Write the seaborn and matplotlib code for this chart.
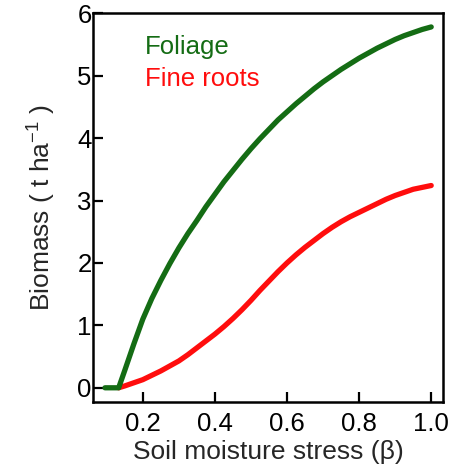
import numpy as np
import pandas as pd
import matplotlib
matplotlib.use("Agg")
import matplotlib.pyplot as plt
import seaborn as sns

# Data
foliage_x = [0.095, 0.133, 0.15, 0.175, 0.2, 0.225, 0.25, 0.275, 0.3, 0.325, 0.35,
             0.375, 0.4, 0.425, 0.45, 0.475, 0.5, 0.525, 0.55, 0.575, 0.6, 0.625,
             0.65, 0.675, 0.7, 0.725, 0.75, 0.775, 0.8, 0.825, 0.85, 0.875, 0.9,
             0.925, 0.95, 0.975, 1.0]
foliage_y = [0.0, 0.0, 0.28, 0.70, 1.10, 1.43, 1.72, 1.99, 2.24, 2.47, 2.68,
             2.90, 3.10, 3.30, 3.48, 3.66, 3.83, 3.99, 4.14, 4.29, 4.42, 4.55,
             4.67, 4.79, 4.90, 5.00, 5.10, 5.19, 5.28, 5.36, 5.44, 5.51, 5.58,
             5.64, 5.69, 5.74, 5.78]
roots_x = [0.133, 0.15, 0.175, 0.2, 0.225, 0.25, 0.275, 0.3, 0.325, 0.35, 0.375,
           0.4, 0.425, 0.45, 0.475, 0.5, 0.525, 0.55, 0.575, 0.6, 0.625, 0.65,
           0.675, 0.7, 0.725, 0.75, 0.775, 0.8, 0.825, 0.85, 0.875, 0.9, 0.925,
           0.95, 0.975, 1.0]
roots_y = [0.0, 0.03, 0.08, 0.13, 0.20, 0.27, 0.35, 0.43, 0.53, 0.64, 0.75,
           0.86, 0.98, 1.11, 1.25, 1.40, 1.56, 1.71, 1.86, 2.00, 2.13, 2.25,
           2.36, 2.47, 2.57, 2.66, 2.74, 2.81, 2.88, 2.95, 3.02, 3.08, 3.13,
           3.18, 3.21, 3.24]
series_names = ["Foliage", "Fine roots"]
xticks = [0.2, 0.4, 0.6, 0.8, 1.0]
xtick_labels = ["0.2", "0.4", "0.6", "0.8", "1.0"]
yticks = [0, 1, 2, 3, 4, 5, 6]

GREEN = "#146c14"
RED = "#ff0d0d"

sns.set_style("ticks")
plt.rcParams["font.family"] = ["Liberation Sans", "DejaVu Sans"]
plt.rcParams["mathtext.fontset"] = "custom"
plt.rcParams["mathtext.rm"] = "Liberation Sans"
plt.rcParams["mathtext.it"] = "Liberation Sans:italic"

df = pd.concat([
    pd.DataFrame({"x": foliage_x, "y": foliage_y, "series": series_names[0]}),
    pd.DataFrame({"x": roots_x, "y": roots_y, "series": series_names[1]}),
], ignore_index=True)

fig = plt.figure(figsize=(4.54, 4.72), dpi=100)
ax = fig.add_axes([0.205, 0.148, 0.771, 0.824])

sns.lineplot(data=df[df.series == series_names[1]], x="x", y="y", color=RED,
             lw=3.8, ax=ax, legend=False, solid_capstyle="round",
             solid_joinstyle="round", zorder=2)
sns.lineplot(data=df[df.series == series_names[0]], x="x", y="y", color=GREEN,
             lw=3.8, ax=ax, legend=False, solid_capstyle="round",
             solid_joinstyle="round", zorder=3)

ax.set_xlim(0.062, 1.033)
ax.set_ylim(-0.23, 6.0)
ax.set_xticks(xticks)
ax.set_xticklabels(xtick_labels)
ax.set_yticks(yticks)

for s in ax.spines.values():
    s.set_linewidth(1.8)
    s.set_color("black")
ax.tick_params(axis="both", direction="in", length=7, width=1.6, colors="black",
               labelsize=18.5)
ax.tick_params(axis="y", pad=1)
ax.tick_params(axis="x", pad=7)

ax.set_xlabel("Soil moisture stress (β)", fontsize=19, labelpad=3)
ax.set_ylabel("Biomass ( t ha$^{-1}$ )", fontsize=19, labelpad=14)

ax.text(0.205, 5.46, series_names[0], color=GREEN, fontsize=18.5, va="center", ha="left")
ax.text(0.205, 4.95, series_names[1], color=RED, fontsize=18.5, va="center", ha="left")

fig.savefig("out.png", dpi=100)
